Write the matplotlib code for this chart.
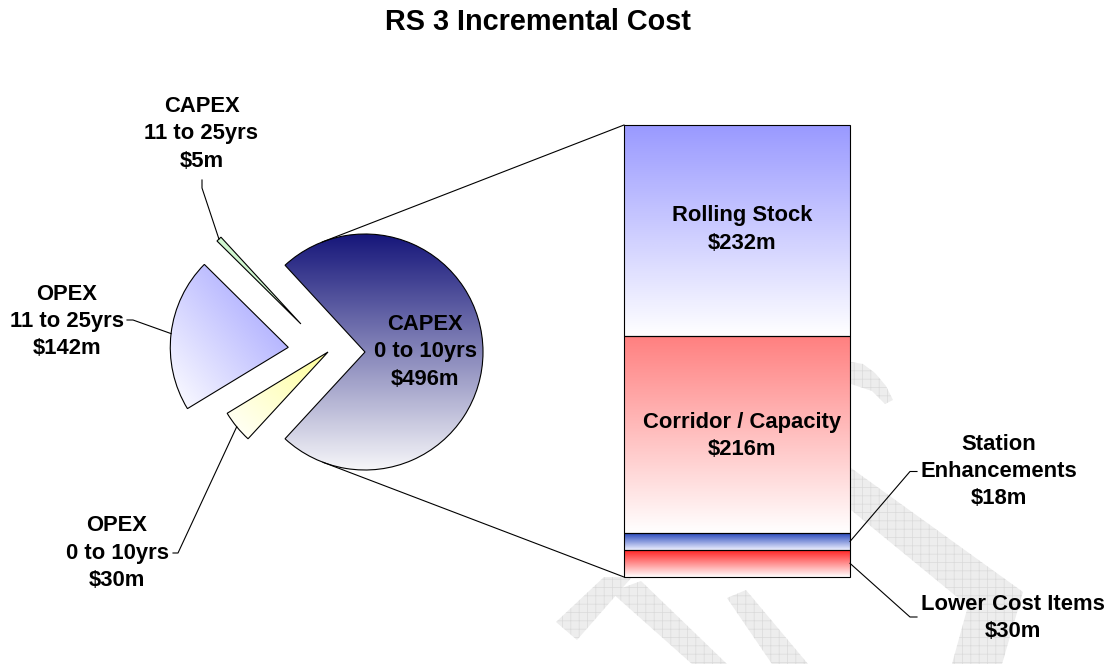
import numpy as np
import matplotlib
matplotlib.use('Agg')
import matplotlib.pyplot as plt
import matplotlib.colors as mcolors
from matplotlib.patches import Polygon

plt.rcParams['font.family'] = ['Liberation Sans', 'DejaVu Sans']
plt.rcParams['hatch.linewidth'] = 0.5

# ---------------- data ----------------
title = "RS 3 Incremental Cost"
pie_names = ["CAPEX\n0 to 10yrs", "CAPEX\n11 to 25yrs", "OPEX\n11 to 25yrs", "OPEX\n0 to 10yrs"]
pie_values = [496, 5, 142, 30]
bar_names = ["Lower Cost Items", "Station\nEnhancements", "Corridor / Capacity", "Rolling Stock"]
bar_values = [30, 18, 216, 232]

# ---------------- styles ----------------
pie_grad = [('v', '#f6f6f9', '#16167a'),
            ('d', '#ecffec', '#b4eeb4'),
            ('d', '#ffffff', '#9a9aff'),
            ('d', '#ffffff', '#ffff99')]
bar_grad = [('v', '#ffffff', '#ff1c1c'),
            ('v', '#eef0ff', '#2848bc'),
            ('v', '#ffffff', '#ff8080'),
            ('v', '#ffffff', '#9999ff')]
explode_px = [37, 39, 40, 0]

W, H = 1112, 664
fig = plt.figure(figsize=(W / 100, H / 100), dpi=100)
# background axes for the faint watermark
wax = fig.add_axes([0, 0, 1, 1], zorder=0)
wax.set_xlim(0, W)
wax.set_ylim(0, H)
wax.axis('off')
# main axes (pie, lines, text) drawn above the bar axes
ax = fig.add_axes([0, 0, 1, 1], zorder=2)
ax.patch.set_visible(False)

LS = 15.8  # label font size
LSP = 1.38  # line spacing


def py(v):
    return H - v


def gradient(axis, patch, spec, extent, zorder=2):
    kind, c0, c1 = spec
    n = 256
    u = np.linspace(0, 1, n)
    if kind == 'v':
        T = np.tile(u[:, None], (1, n))
    else:
        T = (u[:, None] + u[None, :]) / 2.0
    a = np.array(mcolors.to_rgb(c0))
    b = np.array(mcolors.to_rgb(c1))
    img = a + T[..., None] * (b - a)
    im = axis.imshow(img, extent=extent, origin='lower', aspect='auto',
                     interpolation='bilinear', zorder=zorder)
    im.set_clip_path(patch)
    return im


# ---------------- watermark (faint) ----------------
wm_polys = [
    [(851, 362), (863, 364), (875, 373), (886, 386), (893, 400), (885, 404), (872, 391), (851, 384)],
    [(851, 468), (1023, 592), (1002, 664), (952, 664), (968, 606), (851, 510)],
    [(556, 622), (577, 640), (632, 577), (604, 577)],
    [(611, 592), (641, 581), (727, 664), (692, 664)],
    [(727, 598), (746, 590), (808, 664), (772, 664)],
]
for poly in wm_polys:
    p = Polygon([(x, py(y)) for x, y in poly], closed=True, facecolor='#ededed',
                edgecolor='#dadada', hatch='++', linewidth=0, zorder=0.5)
    wax.add_patch(p)

# ---------------- pie ----------------
CX, CY, R = 328, py(352), 118
total = sum(pie_values)
start = -180.0 * pie_values[0] / total
wedges, _ = ax.pie(pie_values, explode=explode_px, startangle=start, radius=R,
                   center=(CX, CY), counterclock=True, frame=False,
                   wedgeprops=dict(facecolor='none', edgecolor='black', linewidth=0.8))
for w, spec in zip(wedges, pie_grad):
    w.set_zorder(3)
    bb = w.get_path().get_extents()
    gradient(ax, w, spec, [bb.x0, bb.x1, bb.y0, bb.y1], zorder=2)

# ---------------- bar ----------------
BX0, BX1, BY0, BY1 = 624, 850, py(577), py(125)
bax = fig.add_axes([BX0 / W, BY0 / H, (BX1 - BX0) / W, (BY1 - BY0) / H], zorder=1)
bar_total = sum(bar_values)
bax.axis('off')
bottoms = np.concatenate([[0], np.cumsum(bar_values)[:-1]])
for v, b, spec in zip(bar_values, bottoms, bar_grad):
    rect = bax.bar(0.5, v, width=1.0, bottom=b, facecolor='none',
                   edgecolor='black', linewidth=0.8, zorder=3, clip_on=False)[0]
    gradient(bax, rect, spec, [0, 1, b, b + v], zorder=2)
bax.set_xlim(0, 1)
bax.set_ylim(0, bar_total)

scale = (BY1 - BY0) / bar_total


def bar_y(val):
    return BY0 + val * scale


# ---------------- connector lines ----------------
cap = wedges[0]
O = cap.center
r = cap.r


def tangent(P, upper):
    dx, dy = P[0] - O[0], P[1] - O[1]
    d = np.hypot(dx, dy)
    th = np.arctan2(dy, dx)
    a = np.arccos(r / d)
    ang = th + a if upper else th - a
    return O[0] + r * np.cos(ang), O[1] + r * np.sin(ang)


for P, up in [((BX0, BY1), True), ((BX0, BY0), False)]:
    t = tangent(P, up)
    ax.plot([t[0], P[0]], [t[1], P[1]], color='black', lw=0.8, zorder=4)

# ---------------- labels ----------------
def lab(x, y, s):
    ax.text(x, y, s, ha='center', va='center', fontsize=LS, fontweight='bold',
            linespacing=LSP, zorder=6, color='black')


def value_text(name, v):
    return f"{name}\n\\${v}m"


ax.text(538, py(22), title, ha='center', va='center', fontsize=20.8,
        fontweight='bold', zorder=6)

pie_label_pos = [(425, py(352)), (201.5, py(134)), (66.7, py(321.5)), (117, py(553))]
for name, v, pos in zip(pie_names, pie_values, pie_label_pos):
    lab(pos[0], pos[1], value_text(name, v))


def arc_mid(w):
    tm = np.deg2rad((w.theta1 + w.theta2) / 2)
    return w.center[0] + w.r * np.cos(tm), w.center[1] + w.r * np.sin(tm)


# leader lines for outside pie labels: (wedge index, elbow, end)
pie_leaders = [(1, (202, py(188)), (202, py(180))),
               (2, (133, py(320)), (127, py(320))),
               (3, (178, py(553)), (173, py(553)))]
for i, elbow, end in pie_leaders:
    m = arc_mid(wedges[i])
    ax.plot([m[0], elbow[0], end[0]], [m[1], elbow[1], end[1]], color='black', lw=0.8, zorder=4)

bar_label_pos = [(1013, py(618)), (999, py(471.5)), (742, py(436)), (742, py(229.5))]
for name, v, pos in zip(bar_names, bar_values, bar_label_pos):
    lab(pos[0], pos[1], value_text(name, v))

bar_leaders = [(0, (910, py(617)), (917, py(617))),
               (1, (910, py(471.5)), (917, py(471.5)))]
for i, elbow, end in bar_leaders:
    ymid = bar_y(bottoms[i] + bar_values[i] / 2)
    ax.plot([BX1, elbow[0], end[0]], [ymid, elbow[1], end[1]], color='black', lw=0.8, zorder=4)

ax.set_xlim(0, W)
ax.set_ylim(0, H)
ax.set_aspect('auto')
ax.axis('off')

fig.savefig('out.png', dpi=100, facecolor='white')
